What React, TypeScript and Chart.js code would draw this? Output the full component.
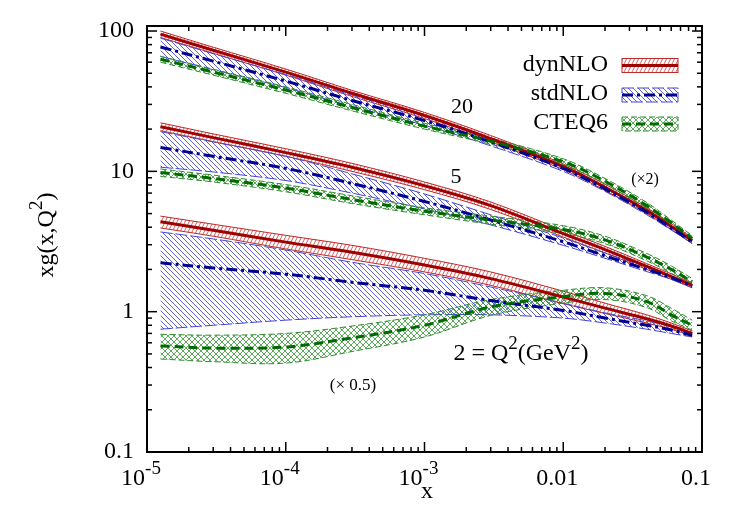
import React, { useEffect, useRef } from 'react';
import { Chart, registerables } from 'chart.js';
Chart.register(...registerables);

// ---- data ----
const xValues = [1.25e-5, 3e-5, 1e-4, 3e-4, 1e-3, 3e-3, 0.01, 0.02, 0.04, 0.06, 0.085];

// Q^2 = 20 (x2)
const dyn20 = [95, 73, 51, 36, 25, 17.1, 10.8, 7.7, 5.25, 4.05, 3.2];
const dyn20Hi = [100, 76.7, 53.6, 37.8, 26.3, 18, 11.3, 8.1, 5.5, 4.25, 3.35];
const dyn20Lo = [90, 69.4, 48.5, 34.2, 23.8, 16.2, 10.3, 7.3, 5.0, 3.85, 3.05];
const std20 = [77, 61, 44, 32, 23, 16.2, 10.5, 7.5, 5.1, 3.95, 3.15];
const std20Hi = [89, 69, 49, 35, 24.8, 17.2, 11.0, 7.8, 5.3, 4.08, 3.23];
const std20Lo = [66, 53, 39.5, 29, 21.3, 15.2, 10.0, 7.2, 4.9, 3.82, 3.07];
const cteq20 = [63, 51, 38, 28.5, 21, 16.4, 11.7, 8.5, 5.7, 4.3, 3.33];
const cteq20Hi = [66, 53.5, 40, 30, 22, 17.2, 12.3, 8.9, 6.0, 4.5, 3.48];
const cteq20Lo = [60, 48.5, 36, 27, 20, 15.6, 11.1, 8.1, 5.4, 4.1, 3.18];

// Q^2 = 5
const dyn5 = [20.8, 17.4, 13.6, 10.7, 7.9, 5.7, 3.6, 2.77, 2.1, 1.78, 1.54];
const dyn5Hi = [22.2, 18.5, 14.5, 11.4, 8.4, 6.05, 3.8, 2.92, 2.2, 1.86, 1.6];
const dyn5Lo = [19.5, 16.3, 12.8, 10.0, 7.4, 5.35, 3.4, 2.62, 2.0, 1.7, 1.48];
const std5 = [14.8, 12.8, 10.5, 8.2, 6.1, 4.5, 3.15, 2.5, 2.0, 1.75, 1.52];
const std5Hi = [19.2, 16.2, 12.8, 9.6, 6.9, 4.9, 3.35, 2.62, 2.08, 1.8, 1.56];
const std5Lo = [10.7, 9.9, 8.6, 7.0, 5.4, 4.15, 2.97, 2.4, 1.93, 1.7, 1.48];
const cteq5 = [9.8, 8.9, 7.6, 6.3, 5.2, 4.5, 3.85, 3.25, 2.45, 2.0, 1.63];
const cteq5Hi = [10.4, 9.4, 8.05, 6.7, 5.5, 4.8, 4.1, 3.45, 2.6, 2.12, 1.72];
const cteq5Lo = [9.2, 8.4, 7.15, 5.9, 4.9, 4.2, 3.6, 3.05, 2.3, 1.88, 1.54];

// Q^2 = 2 (x0.5)
const dyn2 = [4.37, 3.8, 3.13, 2.65, 2.15, 1.72, 1.27, 1.06, 0.89, 0.79, 0.70];
const dyn2Hi = [4.8, 4.2, 3.5, 2.97, 2.4, 1.92, 1.4, 1.15, 0.95, 0.83, 0.73];
const dyn2Lo = [3.95, 3.45, 2.8, 2.35, 1.92, 1.54, 1.14, 0.97, 0.83, 0.75, 0.67];
const std2 = [2.23, 2.05, 1.85, 1.62, 1.42, 1.2, 1.02, 0.9, 0.8, 0.74, 0.68];
const std2Hi = [3.7, 3.3, 2.75, 2.25, 1.87, 1.5, 1.15, 0.98, 0.86, 0.78, 0.71];
const std2Lo = [0.75, 0.8, 0.87, 0.92, 0.95, 0.95, 0.9, 0.83, 0.75, 0.7, 0.66];
const cteq2 = [0.57, 0.55, 0.56, 0.65, 0.8, 1.08, 1.28, 1.35, 1.18, 0.95, 0.8];
const cteq2Hi = [0.69, 0.68, 0.7, 0.79, 0.95, 1.22, 1.42, 1.48, 1.3, 1.06, 0.87];
const cteq2Lo = [0.46, 0.44, 0.43, 0.52, 0.66, 0.94, 1.15, 1.22, 1.07, 0.86, 0.74];

const yTickValues = [0.1, 1, 10, 100];
const yTickLabels = ['0.1', '1', '10', '100'];
const xTickValues = [1e-5, 1e-4, 1e-3, 0.01, 0.1];
const xTickBase = ['10', '10', '10', '0.01', '0.1'];
const xTickSup = ['-5', '-4', '-3', '', ''];
const legendNames = ['dynNLO', 'stdNLO', 'CTEQ6'];

const FONT = '"Liberation Serif", "Times New Roman", serif';

const RED = 'rgb(160,0,0)';
const BLUE = 'rgb(0,0,145)';
const GREEN = 'rgb(0,105,0)';
const RED_EDGE = 'rgb(190,40,40)';
const BLUE_EDGE = 'rgb(70,70,210)';
const GREEN_EDGE = 'rgb(50,140,50)';

function makePattern(ctx: CanvasRenderingContext2D, kind: string, color: string) {
  const c = document.createElement('canvas');
  let w = 6, h = 6;
  if (kind === 'red') { w = 4; h = 8; }
  if (kind === 'blue') { w = 5; h = 5; }
  c.width = w; c.height = h;
  const g = c.getContext('2d')!;
  g.strokeStyle = color;
  g.lineWidth = 0.9;
  const line = (x1: number, y1: number, x2: number, y2: number) => {
    g.beginPath(); g.moveTo(x1, y1); g.lineTo(x2, y2); g.stroke();
  };
  for (const dx of [-w, 0, w]) {
    if (kind === 'red') line(dx, h, dx + w, 0);
    if (kind === 'blue') line(dx, 0, dx + w, h);
    if (kind === 'green') { line(dx, 0, dx + w, h); line(dx, h, dx + w, 0); }
  }
  return ctx.createPattern(c, 'repeat')!;
}

type Part = { t: string; sup?: boolean };
function drawRich(ctx: CanvasRenderingContext2D, parts: Part[], x: number, y: number, align: string, size: number) {
  const supSize = Math.round(size * 0.8);
  const raise = size * 0.47;
  let total = 0;
  const widths = parts.map((p) => {
    ctx.font = `${p.sup ? supSize : size}px ${FONT}`;
    const w = ctx.measureText(p.t).width;
    total += w;
    return w;
  });
  let cx = align === 'center' ? x - total / 2 : align === 'right' ? x - total : x;
  ctx.textAlign = 'left';
  ctx.textBaseline = 'alphabetic';
  parts.forEach((p, i) => {
    ctx.font = `${p.sup ? supSize : size}px ${FONT}`;
    ctx.fillText(p.t, cx, p.sup ? y - raise : y);
    cx += widths[i];
  });
}

export default function App() {
  const ref = useRef<HTMLCanvasElement>(null);

  useEffect(() => {
    const canvas = ref.current!;
    const ctx = canvas.getContext('2d')!;
    const redPat = makePattern(ctx, 'red', 'rgba(200,60,60,0.9)');
    const bluePat = makePattern(ctx, 'blue', 'rgba(60,60,215,0.9)');
    const greenPat = makePattern(ctx, 'green', 'rgba(40,145,40,0.85)');

    const pts = (arr: number[]) => xValues.map((x, i) => ({ x, y: arr[i] }));

    const styles: Record<string, any> = {
      dyn: { line: RED, edge: RED_EDGE, pat: redPat, dash: [], edgeDash: [], lineOrder: 2, bandOrder: 5 },
      std: { line: BLUE, edge: BLUE_EDGE, pat: bluePat, dash: [11, 4, 3, 4], edgeDash: [12, 3], lineOrder: 1, bandOrder: 4 },
      cteq: { line: GREEN, edge: GREEN_EDGE, pat: greenPat, dash: [9, 5], edgeDash: [6, 3], lineOrder: 0, bandOrder: 3 },
    };

    const series = [
      { k: 'dyn', c: dyn20, hi: dyn20Hi, lo: dyn20Lo },
      { k: 'std', c: std20, hi: std20Hi, lo: std20Lo },
      { k: 'cteq', c: cteq20, hi: cteq20Hi, lo: cteq20Lo },
      { k: 'dyn', c: dyn5, hi: dyn5Hi, lo: dyn5Lo },
      { k: 'std', c: std5, hi: std5Hi, lo: std5Lo },
      { k: 'cteq', c: cteq5, hi: cteq5Hi, lo: cteq5Lo },
      { k: 'dyn', c: dyn2, hi: dyn2Hi, lo: dyn2Lo },
      { k: 'std', c: std2, hi: std2Hi, lo: std2Lo },
      { k: 'cteq', c: cteq2, hi: cteq2Hi, lo: cteq2Lo },
    ];

    const TENSION = 0.35;
    const datasets: any[] = [];
    series.forEach((s) => {
      const st = styles[s.k];
      datasets.push({
        data: pts(s.hi), borderColor: st.edge, borderWidth: 1, borderDash: st.edgeDash,
        pointRadius: 0, fill: '+1', backgroundColor: st.pat, order: st.bandOrder,
        tension: TENSION,
      });
      datasets.push({
        data: pts(s.lo), borderColor: st.edge, borderWidth: 1, borderDash: st.edgeDash,
        pointRadius: 0, fill: false, order: st.bandOrder, tension: TENSION,
      });
    });
    series.forEach((s) => {
      const st = styles[s.k];
      datasets.push({
        data: pts(s.c), borderColor: st.line, borderWidth: 3, borderDash: st.dash,
        pointRadius: 0, fill: false, order: st.lineOrder, tension: TENSION,
      });
    });

    const deco = {
      id: 'deco',
      afterDraw(chart: any) {
        const c = chart.ctx as CanvasRenderingContext2D;
        const xs = chart.scales.x;
        const ys = chart.scales.y;
        const { left, right, top, bottom } = chart.chartArea;
        c.save();
        c.fillStyle = '#000';
        c.strokeStyle = '#000';
        // frame
        c.lineWidth = 2;
        c.setLineDash([]);
        c.strokeRect(left, top, right - left, bottom - top);
        // ticks
        c.lineWidth = 1.5;
        const tick = (x1: number, y1: number, x2: number, y2: number) => {
          c.beginPath(); c.moveTo(x1, y1); c.lineTo(x2, y2); c.stroke();
        };
        for (let k = -1; k <= 2; k++) {
          for (let m = 1; m <= 9; m++) {
            const v = m * Math.pow(10, k);
            if (v < ys.min - 1e-12 || v > ys.max) continue;
            const py = ys.getPixelForValue(v);
            const len = m === 1 ? 10 : 5;
            tick(left, py, left + len, py);
            tick(right, py, right - len, py);
          }
        }
        for (let k = -5; k <= -1; k++) {
          for (let m = 1; m <= 9; m++) {
            const v = m * Math.pow(10, k);
            if (v < xs.min * 0.999 || v > xs.max * 1.001) continue;
            const px = xs.getPixelForValue(v);
            const len = m === 1 ? 10 : 5;
            tick(px, bottom, px, bottom - len);
            tick(px, top, px, top + len);
          }
        }
        // y tick labels
        c.font = `24px ${FONT}`;
        c.textAlign = 'right';
        c.textBaseline = 'middle';
        yTickValues.forEach((v, i) => {
          c.fillText(yTickLabels[i], left - 13, ys.getPixelForValue(v));
        });
        // x tick labels
        xTickValues.forEach((v, i) => {
          const px = xs.getPixelForValue(v) - 6;
          const parts: Part[] = [{ t: xTickBase[i] }];
          if (xTickSup[i]) parts.push({ t: xTickSup[i], sup: true });
          drawRich(c, parts, px, 485, 'center', 24);
        });
        // axis titles
        c.font = `24px ${FONT}`;
        c.textAlign = 'center';
        c.textBaseline = 'alphabetic';
        c.fillText('x', 427, 498);
        c.save();
        c.translate(53, 235);
        c.rotate(-Math.PI / 2);
        drawRich(c, [{ t: 'xg(x,Q' }, { t: '2', sup: true }, { t: ')' }], 0, 0, 'center', 24);
        c.restore();
        // annotations
        drawRich(c, [{ t: '20' }], 462, 113, 'center', 22);
        drawRich(c, [{ t: '5' }], 456, 183, 'center', 22);
        drawRich(c, [{ t: '(×2)' }], 645, 184, 'center', 16);
        drawRich(c, [{ t: '(× 0.5)' }], 353, 390, 'center', 17);
        drawRich(c, [{ t: '2 = Q' }, { t: '2', sup: true }, { t: '(GeV' }, { t: '2', sup: true }, { t: ')' }], 521, 360, 'center', 24);
        // legend
        const keys = ['dyn', 'std', 'cteq'];
        const ly = [65.5, 95, 124];
        keys.forEach((k, i) => {
          const st = styles[k];
          const x0 = 622, x1 = 678, h = 14;
          const y0 = ly[i] - h / 2;
          c.fillStyle = '#000';
          c.font = `24px ${FONT}`;
          c.textAlign = 'right';
          c.textBaseline = 'middle';
          c.fillText(legendNames[i], 608, ly[i] - 1);
          c.fillStyle = st.pat;
          c.fillRect(x0, y0, x1 - x0, h);
          c.strokeStyle = st.edge;
          c.lineWidth = 1;
          c.setLineDash(st.edgeDash);
          c.strokeRect(x0, y0, x1 - x0, h);
          c.strokeStyle = st.line;
          c.lineWidth = 3;
          c.setLineDash(st.dash);
          c.beginPath(); c.moveTo(x0, ly[i]); c.lineTo(x1, ly[i]); c.stroke();
          c.setLineDash([]);
        });
        c.restore();
      },
    };

    const chart = new Chart(ctx, {
      type: 'line',
      data: { datasets },
      options: {
        animation: false,
        responsive: false,
        events: [],
        layout: { padding: { left: 147, top: 26, right: 29, bottom: 60 } },
        scales: {
          x: { type: 'logarithmic', min: 1e-5, max: 0.1, display: false },
          y: { type: 'logarithmic', min: 0.1, max: 108.6, display: false },
        },
        plugins: { legend: { display: false }, tooltip: { enabled: false } },
      },
      plugins: [deco],
    } as any);
    return () => chart.destroy();
  }, []);

  return (
    <div style={{ position: 'absolute', left: 0, top: 0, width: 731, height: 512, background: '#fff' }}>
      <canvas ref={ref} width={731} height={512} style={{ width: 731, height: 512, display: 'block' }} />
    </div>
  );
}
